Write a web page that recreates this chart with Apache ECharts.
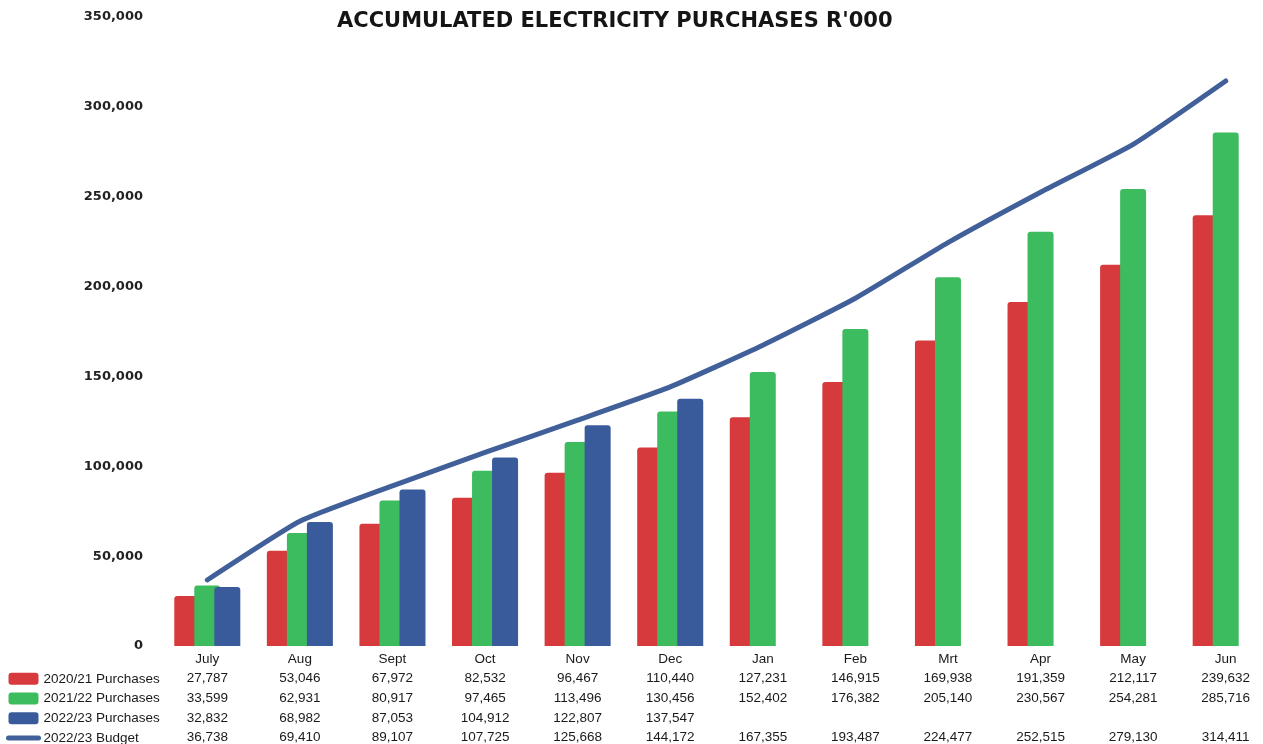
<!DOCTYPE html>
<html>
<head>
<meta charset="utf-8">
<title>Accumulated Electricity Purchases</title>
<script src="https://cdn.jsdelivr.net/npm/echarts@6/dist/echarts.min.js"></script>
<style>
  html, body { margin: 0; padding: 0; background: #ffffff; }
  #chart { width: 1263px; height: 744px; }
</style>
</head>
<body>
<div id="chart"></div>
<script>
// Month categories of the financial year
const months = ['July', 'Aug', 'Sept', 'Oct', 'Nov', 'Dec', 'Jan', 'Feb', 'Mrt', 'Apr', 'May', 'Jun'];

// Accumulated purchases, R'000
const purchases2021 = [27787, 53046, 67972, 82532, 96467, 110440, 127231, 146915, 169938, 191359, 212117, 239632];
const purchases2122 = [33599, 62931, 80917, 97465, 113496, 130456, 152402, 176382, 205140, 230567, 254281, 285716];
const purchases2223 = [32832, 68982, 87053, 104912, 122807, 137547, null, null, null, null, null, null];
const budget2223 = [36738, 69410, 89107, 107725, 125668, 144172, 167355, 193487, 224477, 252515, 279130, 314411];

// Series names and colours
const seriesNames = ['2020/21 Purchases', '2021/22 Purchases', '2022/23 Purchases', '2022/23 Budget'];
const colours = ['#d73a3c', '#3dbb5f', '#3a5b9b', '#41609a'];

// Value axis range
const yMin = 0, yMax = 350000, yStep = 50000;

// Rows of the data table under the month labels
const tableRows = [purchases2021, purchases2122, purchases2223, budget2223];

function fmt(v) {
  if (v === null || v === undefined) return ' ';
  return String(v).replace(/\B(?=(\d{3})+(?!\d))/g, ',');
}

const chart = echarts.init(document.getElementById('chart'));

function barSeries(i, data) {
  return {
    type: 'bar',
    name: seriesNames[i],
    data: data,
    barWidth: 26,
    barGap: '-23%',
    itemStyle: { color: colours[i], borderRadius: [3, 3, 0, 0] }
  };
}

chart.setOption({
  animation: false,
  backgroundColor: '#ffffff',
  title: {
    text: "ACCUMULATED ELECTRICITY PURCHASES R'000",
    left: 332,
    top: 6,
    textStyle: {
      fontFamily: 'DejaVu Sans',
      fontWeight: 900,
      fontSize: 21,
      color: '#151515'
    }
  },
  legend: {
    orient: 'vertical',
    left: 6,
    top: 669,
    height: 100,
    padding: 0,
    itemGap: 0,
    itemWidth: 30,
    itemHeight: 12,
    selectedMode: false,
    textStyle: {
      fontFamily: 'Liberation Sans',
      fontSize: 13.5,
      color: '#1a1a1a',
      lineHeight: 19.7
    },
    data: [
      { name: seriesNames[0], icon: 'roundRect' },
      { name: seriesNames[1], icon: 'roundRect' },
      { name: seriesNames[2], icon: 'roundRect' },
      // line-only key: the series marker is hidden, the stroke stays
      { name: seriesNames[3], itemStyle: { opacity: 0 }, lineStyle: { width: 5, cap: 'round' } }
    ]
  },
  grid: {
    left: 161,
    width: 1111,
    top: 17,
    bottom: 98,
    outerBoundsMode: 'none',
    containLabel: false
  },
  xAxis: {
    type: 'category',
    data: months,
    axisLine: { show: false },
    axisTick: { show: false },
    splitLine: { show: false },
    axisLabel: {
      interval: 0,
      margin: 3,
      verticalAlign: 'top',
      fontFamily: 'Liberation Sans',
      fontSize: 13.5,
      lineHeight: 19.7,
      color: '#1a1a1a',
      formatter: function (value, index) {
        const lines = [value];
        tableRows.forEach(function (row) { lines.push(fmt(row[index])); });
        return lines.join('\n');
      }
    }
  },
  yAxis: {
    type: 'value',
    min: yMin,
    max: yMax,
    interval: yStep,
    axisLine: { show: false },
    axisTick: { show: false },
    splitLine: { show: false },
    axisLabel: {
      margin: 18,
      padding: [6, 0, 0, 0],
      fontFamily: 'DejaVu Sans',
      fontWeight: 'bold',
      fontSize: 13,
      color: '#222222',
      formatter: function (v) { return fmt(v); }
    }
  },
  series: [
    barSeries(0, purchases2021),
    barSeries(1, purchases2122),
    barSeries(2, purchases2223),
    {
      name: seriesNames[3],
      type: 'line',
      data: budget2223,
      symbol: 'none',
      smooth: 0.15,
      z: 5,
      itemStyle: { color: colours[3] },
      lineStyle: { color: colours[3], width: 5, cap: 'round', join: 'round' }
    }
  ]
});
</script>
</body>
</html>
